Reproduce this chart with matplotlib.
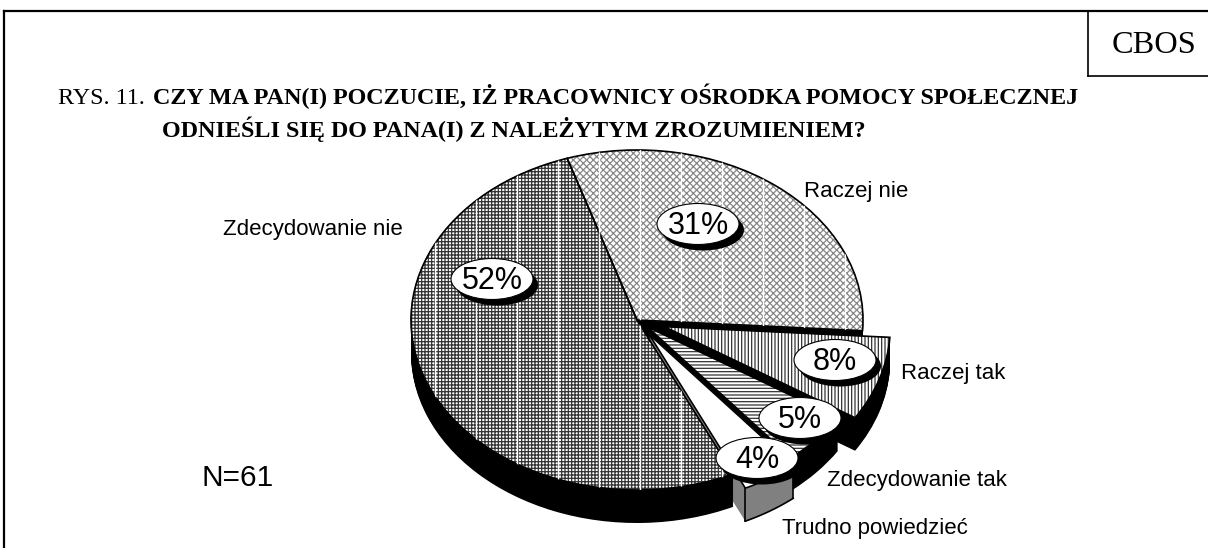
import matplotlib
matplotlib.use('Agg')
import matplotlib.pyplot as plt
import numpy as np
from matplotlib.patches import Ellipse

plt.rcParams['hatch.linewidth'] = 0.9

# dane z wykresu
categories = ['Zdecydowanie nie', 'Raczej nie', 'Raczej tak', 'Zdecydowanie tak', 'Trudno powiedzieć']
values = [52, 31, 8, 5, 4]
n_label = 'N=61'

# wygląd kołowego wykresu
W, H = 1208, 548
cx, cy, rx, ry = 637, 320, 226, 170
depth_px = 33
explode = [0, 0, 0.127, 0.06, 0.10]
hatches = ['+++++', 'xxxxx', '|||||', '-----', None]
hatch_colors = ['#333333', '#888888', '#333333', '#333333', 'white']
sides = ['black', 'black', 'black', 'black', '#808080']
start = 295.2

label_pos = [(223, 235), (804, 197), (901, 379), (827, 486), (782, 534)]
pct_pos = [(492, 279), (698, 224), (835, 360), (800, 418), (757, 458)]

fig = plt.figure(figsize=(W / 100, H / 100), dpi=100)

# osie w jednostkach promienia, dzięki czemu koło staje się elipsą
ax = fig.add_axes([0, 0, 1, 1])
xlim = (-cx / rx, (W - cx) / rx)
ylim = (-(H - cy) / ry, cy / ry)

# boczna ściana: ten sam wykres przesuwany w dół
for off in range(depth_px, 0, -1):
    ax.pie(values, explode=explode, colors=sides, startangle=start, counterclock=False,
           center=(0, -off / ry), wedgeprops={'linewidth': 0})

# górna powierzchnia: najpierw kreskowanie, potem czarny kontur
wedges, _ = ax.pie(values, explode=explode, colors=['white'] * 5, hatch=hatches, startangle=start,
                   counterclock=False, wedgeprops={'linewidth': 0.5})
for wedge, c in zip(wedges, hatch_colors):
    wedge.set_edgecolor(c)

# białe pionowe smugi w kreskowaniu dwóch dużych wycinków
ax.set_aspect('auto')
ax.set_xlim(*xlim)
ax.set_ylim(*ylim)
for wedge in wedges[:2]:
    for gx in range(435, 860, 41):
        line, = ax.plot([(gx - cx) / rx] * 2, [-1.2, 1.2], color='white', lw=1.0)
        line.set_clip_path(wedge)

outlines, _ = ax.pie(values, explode=explode, startangle=start, counterclock=False,
                     wedgeprops={'linewidth': 1.2, 'edgecolor': 'black', 'fill': False})

# krawędzie szarej ściany ostatniego wycinka
w = wedges[-1]
d = depth_px / ry
t = np.radians([w.theta1, w.theta2])
corners = np.array(w.center) + np.column_stack([np.cos(t), np.sin(t)])
theta = np.radians(np.linspace(w.theta1, w.theta2, 30))
ax.plot(w.center[0] + np.cos(theta), w.center[1] + np.sin(theta) - d, color='black', lw=1.2)
for px, py in corners:
    ax.plot([px, px], [py, py - d], color='black', lw=1.2)

ax.set_aspect('auto')
ax.set_xlim(*xlim)
ax.set_ylim(*ylim)
ax.axis('off')

# nakładka w pikselach na ramkę i teksty
ov = fig.add_axes([0, 0, 1, 1], facecolor='none')
ov.set_xlim(0, W)
ov.set_ylim(H, 0)
ov.axis('off')

ov.plot([4, 4], [H, 11], color='black', lw=1.6)
ov.plot([4, W], [11, 11], color='black', lw=1.6)
ov.plot([1088, 1088], [11, 76], color='black', lw=1.2)
ov.plot([1088, W], [76, 76], color='black', lw=1.2)

serif = 'Liberation Serif'
sans = 'Liberation Sans'
ov.text(1112, 53, 'CBOS', family=serif, fontsize=23.3)
ov.text(58, 104, 'RYS. 11.', family=serif, fontsize=17.4)
ov.text(153, 104, 'CZY MA PAN(I) POCZUCIE, IŻ PRACOWNICY OŚRODKA POMOCY SPOŁECZNEJ',
        family=serif, fontsize=17.4, weight='bold')
ov.text(162, 137, 'ODNIEŚLI SIĘ DO PANA(I) Z NALEŻYTYM ZROZUMIENIEM?',
        family=serif, fontsize=17.4, weight='bold')

for name, (x, y) in zip(categories, label_pos):
    ov.text(x, y, name, family=sans, fontsize=16)
ov.text(202, 486, n_label, family=sans, fontsize=21.5)

for v, (x, y) in zip(values, pct_pos):
    ov.add_patch(Ellipse((x + 5, y + 6), 82, 41, fc='black', ec='none'))
    ov.add_patch(Ellipse((x, y), 82, 41, fc='white', ec='black', lw=0.8))
    ov.text(x, y + 2, f'{v}%', family=sans, fontsize=22, ha='center', va='center')

fig.savefig('out.png', dpi=100)
plt.close()
